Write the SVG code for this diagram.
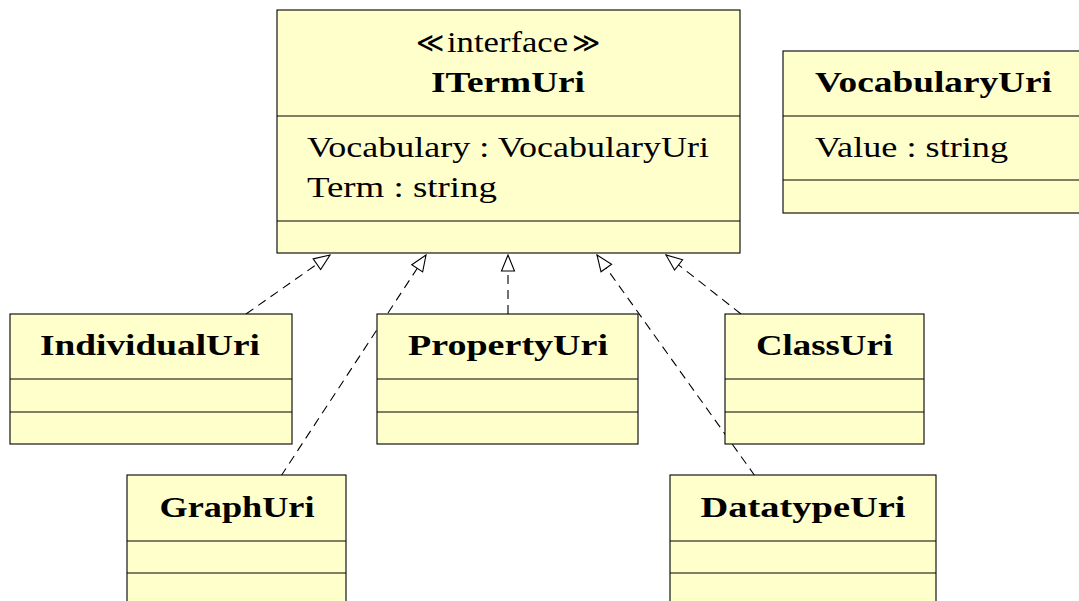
<svg xmlns="http://www.w3.org/2000/svg" width="1079" height="601" viewBox="0 0 1079 601">
<style>
.box{fill:#ffffcc;stroke:#000;stroke-width:1.1}
.div{stroke:#000;stroke-width:1.1}
.t{font-family:"Liberation Serif","DejaVu Serif",serif;font-size:29px;fill:#000}
.sym{font-family:"DejaVu Serif",serif;font-size:28px;fill:#000}
.b{font-weight:bold;text-anchor:middle}
.c{text-anchor:middle}
.con{fill:none;stroke:#000;stroke-width:1.1;stroke-dasharray:9,6}
</style>
<defs>
<marker id="tri" viewBox="0 0 18 16" refX="17" refY="8" markerWidth="18" markerHeight="16" markerUnits="userSpaceOnUse" orient="auto">
<path d="M1,1.5 L17,8 L1,14.5 Z" fill="#fff" stroke="#000" stroke-width="1.1"/>
</marker>
</defs>
<g id="connectors">
<line class="con" x1="246" y1="314" x2="330" y2="255" marker-end="url(#tri)"/>
<line class="con" x1="281" y1="476" x2="426" y2="255" marker-end="url(#tri)"/>
<line class="con" x1="508" y1="314" x2="508" y2="255" marker-end="url(#tri)"/>
<line class="con" x1="755" y1="476" x2="597" y2="255" marker-end="url(#tri)"/>
<line class="con" x1="741" y1="314" x2="666" y2="255" marker-end="url(#tri)"/>
</g>
<g id="ITermUri">
<rect class="box" x="277" y="10" width="463" height="243"/>
<line class="div" x1="277" y1="116" x2="740" y2="116"/>
<line class="div" x1="277" y1="221" x2="740" y2="221"/>
<text class="sym" x="416" y="52" textLength="28" lengthAdjust="spacingAndGlyphs">≪</text>
<text class="t" x="447" y="52" textLength="121" lengthAdjust="spacingAndGlyphs">interface</text>
<text class="sym" x="572" y="52" textLength="28" lengthAdjust="spacingAndGlyphs">≫</text>
<text class="t b" x="508" y="92" textLength="154" lengthAdjust="spacingAndGlyphs">ITermUri</text>
<text class="t" x="307" y="157" textLength="402" lengthAdjust="spacingAndGlyphs">Vocabulary : VocabularyUri</text>
<text class="t" x="307" y="197" textLength="190" lengthAdjust="spacingAndGlyphs">Term : string</text>
</g>
<g id="VocabularyUri">
<rect class="box" x="783" y="51" width="310" height="162"/>
<line class="div" x1="783" y1="116" x2="1093" y2="116"/>
<line class="div" x1="783" y1="180" x2="1093" y2="180"/>
<text class="t b" x="933.5" y="92" textLength="237" lengthAdjust="spacingAndGlyphs">VocabularyUri</text>
<text class="t" x="815" y="157" textLength="193" lengthAdjust="spacingAndGlyphs">Value : string</text>
</g>
<g id="IndividualUri">
<rect class="box" x="10" y="314" width="282" height="130"/>
<line class="div" x1="10" y1="379" x2="292" y2="379"/>
<line class="div" x1="10" y1="412" x2="292" y2="412"/>
<text class="t b" x="150" y="355" textLength="220" lengthAdjust="spacingAndGlyphs">IndividualUri</text>
</g>
<g id="PropertyUri">
<rect class="box" x="377" y="314" width="261" height="130"/>
<line class="div" x1="377" y1="379" x2="638" y2="379"/>
<line class="div" x1="377" y1="412" x2="638" y2="412"/>
<text class="t b" x="508" y="355" textLength="200" lengthAdjust="spacingAndGlyphs">PropertyUri</text>
</g>
<g id="ClassUri">
<rect class="box" x="725" y="314" width="199" height="130"/>
<line class="div" x1="725" y1="379" x2="924" y2="379"/>
<line class="div" x1="725" y1="412" x2="924" y2="412"/>
<text class="t b" x="824.5" y="355" textLength="137" lengthAdjust="spacingAndGlyphs">ClassUri</text>
</g>
<g id="GraphUri">
<rect class="box" x="127" y="475" width="219" height="132"/>
<line class="div" x1="127" y1="541" x2="346" y2="541"/>
<line class="div" x1="127" y1="573" x2="346" y2="573"/>
<text class="t b" x="237" y="517" textLength="155" lengthAdjust="spacingAndGlyphs">GraphUri</text>
</g>
<g id="DatatypeUri">
<rect class="box" x="670" y="475" width="266" height="132"/>
<line class="div" x1="670" y1="541" x2="936" y2="541"/>
<line class="div" x1="670" y1="573" x2="936" y2="573"/>
<text class="t b" x="803" y="517" textLength="205" lengthAdjust="spacingAndGlyphs">DatatypeUri</text>
</g>
</svg>
